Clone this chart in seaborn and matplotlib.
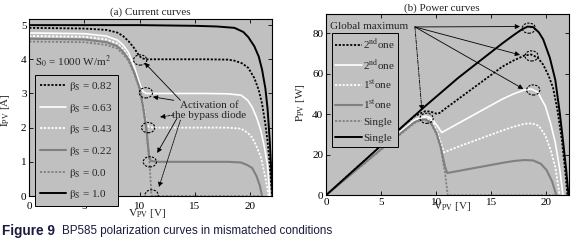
import matplotlib
matplotlib.use("Agg")
import matplotlib.pyplot as plt
from matplotlib.patches import Ellipse
from matplotlib.lines import Line2D
import seaborn as sns
import pandas as pd

sns.set_style("ticks")
plt.rcParams['font.family'] = ['Liberation Serif', 'DejaVu Serif']
plt.rcParams['mathtext.fontset'] = 'stix'

# ---------------- data ----------------
beta_labels = ['0.82', '0.63', '0.43', '0.22', '0.0', '1.0']
power_labels = [r'2$^{\mathrm{nd}}$one', r'2$^{\mathrm{nd}}$one', r'1$^{\mathrm{st}}$one',
                r'1$^{\mathrm{st}}$one', 'Single', 'Single']

# (a) current curves
V_b082 = [0, 5, 7, 8, 8.5, 9, 9.5, 9.9, 10.2, 10.6, 12, 16, 18, 18.6, 19.3, 19.85, 20.4, 20.8, 21.1, 21.4, 21.6, 21.8, 22.0]
I_b082 = [4.92, 4.9, 4.86, 4.78, 4.68, 4.53, 4.33, 4.13, 4.03, 4.0, 4.0, 4.0, 3.99, 3.96, 3.88, 3.75, 3.45, 3.1, 2.7, 2.1, 1.6, 0.92, 0.0]
V_b063 = [0, 5, 7, 8, 8.5, 9, 9.5, 10, 10.3, 10.6, 11, 16, 18, 19.2, 19.8, 20.2, 20.6, 21.0, 21.3, 21.6, 21.8]
I_b063 = [4.77, 4.75, 4.68, 4.56, 4.42, 4.2, 3.8, 3.3, 3.06, 3.0, 3.0, 3.0, 2.99, 2.95, 2.8, 2.6, 2.3, 1.9, 1.45, 0.9, 0.0]
V_b043 = [0, 5, 7, 8, 8.5, 9, 9.5, 10, 10.3, 10.6, 10.85, 11.3, 16, 18, 19.2, 19.8, 20.2, 20.6, 21.0, 21.4, 21.7]
I_b043 = [4.68, 4.66, 4.58, 4.46, 4.3, 4.07, 3.68, 3.2, 2.72, 2.15, 2.02, 2.0, 2.0, 2.0, 1.97, 1.85, 1.71, 1.45, 1.13, 0.55, 0.0]
V_b022 = [0, 5, 7, 8, 8.5, 9, 9.5, 10, 10.3, 10.6, 10.85, 11.0, 11.5, 16, 18, 19.2, 19.8, 20.2, 20.6, 20.9, 21.1]
I_b022 = [4.6, 4.58, 4.5, 4.38, 4.22, 4.0, 3.63, 3.16, 2.65, 2.0, 1.2, 1.03, 1.0, 1.0, 1.0, 0.98, 0.9, 0.82, 0.58, 0.3, 0.0]
V_b000 = [0, 5, 7, 8, 8.5, 9, 9.5, 10, 10.3, 10.6, 10.9, 11.08, 21.0]
I_b000 = [4.52, 4.5, 4.42, 4.31, 4.15, 3.95, 3.58, 3.13, 2.62, 1.97, 0.97, 0.0, 0.0]
V_b100 = [0, 5, 10, 15, 17, 18.6, 19.4, 19.85, 20.4, 20.8, 21.1, 21.4, 21.6, 21.8, 22.05]
I_b100 = [5.0, 5.0, 5.0, 4.98, 4.96, 4.92, 4.8, 4.65, 4.38, 4.08, 3.7, 3.15, 2.55, 1.6, 0.0]

# (b) power curves
V_p082 = [0, 5, 8, 9, 9.5, 10, 10.3, 11, 12, 14, 16, 17, 18, 18.6, 19.2, 19.7, 20.2, 20.6, 21.0, 21.4, 21.7, 21.9]
P_p082 = [0, 24.5, 39, 41.5, 41.3, 40.3, 40.6, 43.5, 47.5, 55.5, 63.5, 66.5, 69, 69.5, 68, 64.5, 59, 53, 42, 27, 12, 0]
V_p063 = [0, 5, 8, 8.5, 9, 9.4, 9.8, 10.2, 10.5, 12, 14, 16, 17, 18, 18.6, 19.2, 19.9, 20.4, 20.8, 21.2, 21.5]
P_p063 = [0, 23.5, 37, 38.3, 39, 38.5, 36.5, 33.5, 31, 35.5, 41.5, 47.5, 50, 52, 52.5, 51, 44, 35, 26, 13, 0]
V_p043 = [0, 5, 8, 8.5, 9, 9.4, 9.8, 10.2, 10.7, 12, 14, 16, 17, 18, 18.7, 19.3, 19.9, 20.4, 20.8, 21.2]
P_p043 = [0, 23, 36.5, 37.8, 38.2, 37.5, 35, 29.5, 21.2, 24, 28, 32, 33.8, 35.3, 35.5, 34.3, 29.5, 22, 14, 0]
V_p022 = [0, 5, 8, 8.5, 9, 9.5, 10, 10.4, 10.8, 11.0, 12, 14, 16, 17, 18, 18.8, 19.5, 20, 20.5, 20.9]
P_p022 = [0, 22.8, 36, 37.2, 37.5, 36, 31, 24, 14, 11, 12, 14, 16, 16.9, 17.4, 17.2, 15.5, 12.5, 7, 0]
V_p000 = [0, 5, 8, 8.5, 9, 9.5, 10, 10.4, 10.8, 11.05, 21.0]
P_p000 = [0, 22.5, 35.5, 36.8, 37.2, 35.5, 30.5, 23.5, 11, 0, 0]
V_p100 = [0, 5, 9, 12, 14, 16, 17, 17.8, 18.3, 18.8, 19.3, 19.7, 20.3, 20.8, 21.2, 21.5, 21.8, 22.0]
P_p100 = [0, 24.5, 44, 58, 66.5, 75, 79, 82, 83.3, 83, 80.5, 77, 68, 57, 41, 27, 12, 0]

# annotation marker positions
circ_a_V = [10.05, 10.57, 10.78, 10.93, 11.09]
circ_a_I = [3.98, 3.02, 2.0, 1.0, 0.03]
circ_b_V = [18.4, 18.65, 18.8, 9.13]
circ_b_P = [82.5, 68.8, 52.0, 38.0]

# ---------------- styles ----------------
FS = 8
BG = '#c0c0c0'
GRAY = '#808080'
DOT = (0, (1.2, 0.9))
styles = [('black', DOT, 1.3), ('white', '-', 1.2), ('white', DOT, 1.3),
          (GRAY, '-', 1.5), (GRAY, DOT, 1.3), ('black', '-', 1.4)]

fig = plt.figure(figsize=(5.72, 2.45), dpi=100)
axA = fig.add_axes([0.0512, 0.2, 0.4243, 0.7212])
axB = fig.add_axes([0.5699, 0.2029, 0.4240, 0.740])

cur_sets = [(V_b082, I_b082), (V_b063, I_b063), (V_b043, I_b043),
            (V_b022, I_b022), (V_b000, I_b000), (V_b100, I_b100)]
pow_sets = [(V_p082, P_p082), (V_p063, P_p063), (V_p043, P_p043),
            (V_p022, P_p022), (V_p000, P_p000), (V_p100, P_p100)]

for ax, sets in ((axA, cur_sets), (axB, pow_sets)):
    ax.set_facecolor(BG)
    for (vv, yy), (c, ls, lw) in zip(sets, styles):
        df = pd.DataFrame({'V': vv, 'Y': yy})
        sns.lineplot(data=df, x='V', y='Y', ax=ax, color=c, linestyle=ls, lw=lw,
                     sort=False, estimator=None, legend=False)
    ax.set_xlim(0, 22)
    for sp in ax.spines.values():
        sp.set_color('black'); sp.set_linewidth(0.8)
    ax.tick_params(direction='in', length=3, width=0.6, top=True, right=True,
                   labelsize=FS, pad=2, colors='black')
    ax.set_xticks([0, 5, 10, 15, 20])

axA.set_ylim(0, 5.17)
axA.set_yticks([0, 1, 2, 3, 4, 5])
axB.set_ylim(0, 89.5)
axB.set_yticks([0, 20, 40, 60, 80])
axA.tick_params(axis='x', pad=4)

axA.set_xlabel(r'$\mathrm{V_{PV}}$ [V]', fontsize=FS)
axA.set_ylabel(r'$\mathrm{I_{PV}}$ [A]', fontsize=FS)
axB.set_xlabel(r'$\mathrm{V_{PV}}$ [V]', fontsize=FS)
axB.set_ylabel(r'$\mathrm{P_{PV}}$ [W]', fontsize=FS)
axA.xaxis.set_label_coords(0.485, -0.06)
axB.xaxis.set_label_coords(0.52, -0.025)
axA.yaxis.set_label_coords(-0.07, 0.487)
axB.yaxis.set_label_coords(-0.08, 0.51)

fig.text(150 / 572, 1 - 12 / 245, '(a) Current curves', ha='center', va='center', fontsize=FS)
fig.text(441.7 / 572, 1 - 8.5 / 245, '(b) Power curves', ha='center', va='center', fontsize=FS)

# legends
def handles():
    return [Line2D([], [], color=c, linestyle=ls, lw=lw) for c, ls, lw in styles]

legA = axA.legend(handles(), [r'$\mathrm{\beta_S}$ = ' + b for b in beta_labels],
                  loc='upper left', bbox_to_anchor=(0.0235, 0.685), borderaxespad=0,
                  fontsize=FS, frameon=True, fancybox=False, facecolor=BG, edgecolor='black',
                  framealpha=1, handlelength=2.3, handletextpad=0.35, labelspacing=0.78,
                  borderpad=0.45)
legA.get_frame().set_linewidth(0.7)
legA.set_zorder(10)
legB = axB.legend(handles(), power_labels,
                  loc='upper left', bbox_to_anchor=(0.0235, 0.8936), borderaxespad=0,
                  fontsize=FS, frameon=True, fancybox=False, facecolor=BG, edgecolor='black',
                  framealpha=1, handlelength=2.4, handletextpad=0.15, labelspacing=0.57,
                  borderpad=0.3)
legB.get_frame().set_linewidth(0.7)
legB.set_zorder(10)

# (a) annotations
axA.text(0.55, 3.92, r'$\mathrm{S_0}$ = 1000 W/m$^2$', fontsize=FS, va='center', ha='left')
axA.text(16.3, 2.5, 'Activation of\nthe bypass diode', fontsize=FS, ha='center', va='center',
         linespacing=1.15)
for v, i in zip(circ_a_V, circ_a_I):
    axA.add_patch(Ellipse((v, i), 1.2, 0.3, fill=False, ls=(0, (2, 1.2)), lw=0.8,
                          ec='black', zorder=6))
arr_a = [((13.7, 2.8), (10.45, 3.9), '-'), ((13.1, 2.8), (11.2, 2.9), '-'),
         ((13.1, 2.37), (11.85, 2.31), (0, (3, 1.5))), ((13.4, 2.28), (11.6, 1.26), '-'),
         ((13.7, 2.22), (11.75, 0.26), (0, (1, 1)))]
for tail, head, ls in arr_a:
    axA.annotate('', xy=head, xytext=tail,
                 arrowprops=dict(arrowstyle='-|>', lw=0.6, color='black', ls=ls,
                                 mutation_scale=7, shrinkA=0, shrinkB=0))

# (b) annotations
axB.text(0.36, 83.3, 'Global maximum', fontsize=FS, va='center', ha='left')
for v, p in zip(circ_b_V, circ_b_P):
    axB.add_patch(Ellipse((v, p), 1.2, 5.0, fill=False, ls=(0, (2, 1.2)), lw=0.8,
                          ec='black', zorder=6))
origin = (8.07, 83.1)
arr_b = [((17.6, 83.3), '-'), ((17.6, 69.3), '-'), ((17.9, 52.5), '-'),
         ((8.7, 42.0), (0, (4, 1.5, 1, 1.5)))]
for head, ls in arr_b:
    axB.annotate('', xy=head, xytext=origin,
                 arrowprops=dict(arrowstyle='-|>', lw=0.6, color='black', ls=ls,
                                 mutation_scale=7, shrinkA=0, shrinkB=0))

# caption
cap_color = '#1a1a40'
fig.text(2 / 572, 1 - 231 / 245, 'Figure 9', fontsize=9.8, fontweight='bold',
         family=['Liberation Sans', 'DejaVu Sans'], color=cap_color, va='center', ha='left')
fig.text(62.5 / 572, 1 - 231 / 245, 'BP585 polarization curves in mismatched conditions',
         fontsize=8.4, family=['Liberation Sans', 'DejaVu Sans'], color=cap_color,
         va='center', ha='left')

fig.savefig('out.png', dpi=100, facecolor='white')
